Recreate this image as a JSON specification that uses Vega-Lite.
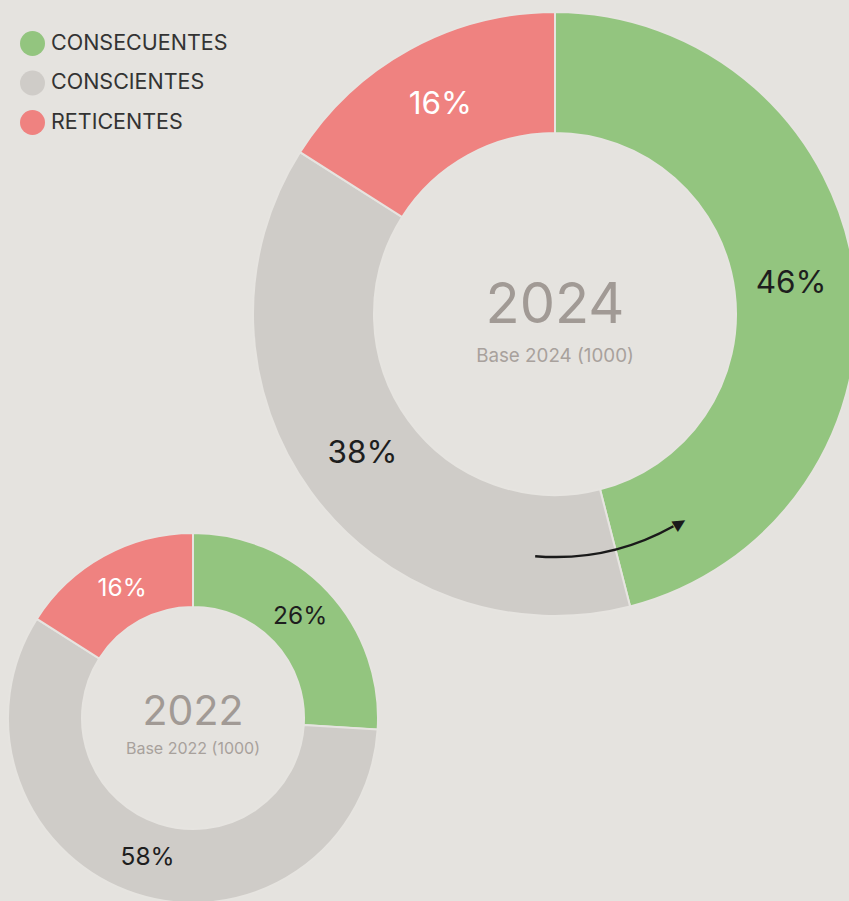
{
  "$schema": "https://vega.github.io/schema/vega-lite/v6.json",
  "width": 849,
  "height": 901,
  "autosize": {"type": "none"},
  "padding": 0,
  "background": "#e5e3df",
  "config": {"view": {"stroke": null}, "font": "Inter"},
  "datasets": {
    "slices": [
      {"year": "2024", "cat": "CONSECUENTES", "pct": 46, "rank": 1, "label": "46%"},
      {"year": "2024", "cat": "CONSCIENTES", "pct": 38, "rank": 2, "label": "38%"},
      {"year": "2024", "cat": "RETICENTES", "pct": 16, "rank": 3, "label": "16%"},
      {"year": "2022", "cat": "CONSECUENTES", "pct": 26, "rank": 1, "label": "26%"},
      {"year": "2022", "cat": "CONSCIENTES", "pct": 58, "rank": 2, "label": "58%"},
      {"year": "2022", "cat": "RETICENTES", "pct": 16, "rank": 3, "label": "16%"}
    ],
    "centers": [
      {"year": "2024", "title": "2024", "base": "Base 2024 (1000)"},
      {"year": "2022", "title": "2022", "base": "Base 2022 (1000)"}
    ]
  },
  "data": {"name": "slices"},
  "encoding": {
    "x": {"field": "year", "type": "nominal", "scale": {"type": "point", "domain": ["2022", "2024"], "range": [193, 555], "padding": 0}, "axis": null},
    "y": {"field": "year", "type": "nominal", "scale": {"type": "point", "domain": ["2022", "2024"], "range": [718, 314], "padding": 0}, "axis": null}
  },
  "layer": [
    {
      "transform": [{"filter": "datum.year === '2024'"}],
      "mark": {"type": "arc", "outerRadius": 302, "innerRadius": 181, "stroke": "#e6e4e0", "strokeWidth": 2},
      "encoding": {
        "theta": {"field": "pct", "type": "quantitative", "stack": true, "scale": {"domain": [0, 100]}},
        "color": {
          "field": "cat", "type": "nominal",
          "scale": {"domain": ["CONSECUENTES", "CONSCIENTES", "RETICENTES"], "range": ["#93c57f", "#cfccc8", "#ef8280"]},
          "legend": {"title": null, "orient": "none", "legendX": 20, "legendY": 31, "symbolType": "circle", "symbolSize": 625, "symbolStrokeWidth": 0, "symbolOpacity": 1, "labelFontSize": 21.5, "labelFont": "Inter", "labelColor": "#333333", "labelOffset": 6, "labelLimit": 400, "rowPadding": 14.5, "padding": 0}
        },
        "order": {"field": "rank", "type": "quantitative"}
      }
    },
    {
      "transform": [{"filter": "datum.year === '2022'"}],
      "mark": {"type": "arc", "outerRadius": 185, "innerRadius": 111, "stroke": "#e6e4e0", "strokeWidth": 2},
      "encoding": {
        "theta": {"field": "pct", "type": "quantitative", "stack": true, "scale": {"domain": [0, 100]}},
        "color": {"field": "cat", "type": "nominal"},
        "order": {"field": "rank", "type": "quantitative"}
      }
    },
    {
      "transform": [{"filter": "datum.year === '2024'"}],
      "mark": {"type": "text", "radius": 238, "fontSize": 31.5, "align": "center", "baseline": "middle"},
      "encoding": {
        "theta": {"field": "pct", "type": "quantitative", "stack": true, "scale": {"domain": [0, 100]}},
        "detail": {"field": "cat", "type": "nominal"},
        "order": {"field": "rank", "type": "quantitative"},
        "text": {"field": "label", "type": "nominal"},
        "color": {"condition": {"test": "datum.cat === 'RETICENTES'", "value": "#ffffff"}, "value": "#1e1e1e"}
      }
    },
    {
      "transform": [{"filter": "datum.year === '2022'"}],
      "mark": {"type": "text", "radius": 147, "fontSize": 24.5, "align": "center", "baseline": "middle"},
      "encoding": {
        "theta": {"field": "pct", "type": "quantitative", "stack": true, "scale": {"domain": [0, 100]}},
        "detail": {"field": "cat", "type": "nominal"},
        "order": {"field": "rank", "type": "quantitative"},
        "text": {"field": "label", "type": "nominal"},
        "color": {"condition": {"test": "datum.cat === 'RETICENTES'", "value": "#ffffff"}, "value": "#1e1e1e"}
      }
    },
    {
      "data": {"name": "centers"},
      "transform": [{"filter": "datum.year === '2024'"}],
      "mark": {"type": "text", "fontSize": 56, "align": "center", "baseline": "alphabetic", "dy": 9, "color": "#a19a95"},
      "encoding": {"text": {"field": "title", "type": "nominal"}}
    },
    {
      "data": {"name": "centers"},
      "transform": [{"filter": "datum.year === '2024'"}],
      "mark": {"type": "text", "fontSize": 18.8, "align": "center", "baseline": "alphabetic", "dy": 48, "color": "#a8a19c"},
      "encoding": {"text": {"field": "base", "type": "nominal"}}
    },
    {
      "data": {"name": "centers"},
      "transform": [{"filter": "datum.year === '2022'"}],
      "mark": {"type": "text", "fontSize": 41, "align": "center", "baseline": "alphabetic", "dy": 7, "color": "#a19a95"},
      "encoding": {"text": {"field": "title", "type": "nominal"}}
    },
    {
      "data": {"name": "centers"},
      "transform": [{"filter": "datum.year === '2022'"}],
      "mark": {"type": "text", "fontSize": 16, "align": "center", "baseline": "alphabetic", "dy": 36, "color": "#a8a19c"},
      "encoding": {"text": {"field": "base", "type": "nominal"}}
    },
    {
      "transform": [{"filter": "datum.year === '2024' && datum.rank === 1"}],
      "mark": {"type": "arc", "innerRadius": 241.8, "outerRadius": 244.3, "color": "#1a1a1a"},
      "encoding": {
        "theta": {"datum": 41.9, "type": "quantitative", "scale": {"domain": [0, 100]}},
        "theta2": {"datum": 51.3}
      }
    },
    {
      "transform": [{"filter": "datum.year === '2024' && datum.rank === 1"}],
      "mark": {"type": "text", "text": "▶", "radius": 243, "angle": 329, "font": "DejaVu Sans", "fontSize": 16, "align": "center", "baseline": "middle", "color": "#1a1a1a"},
      "encoding": {
        "theta": {"datum": 41.45, "type": "quantitative", "scale": {"domain": [0, 100]}}
      }
    }
  ]
}
